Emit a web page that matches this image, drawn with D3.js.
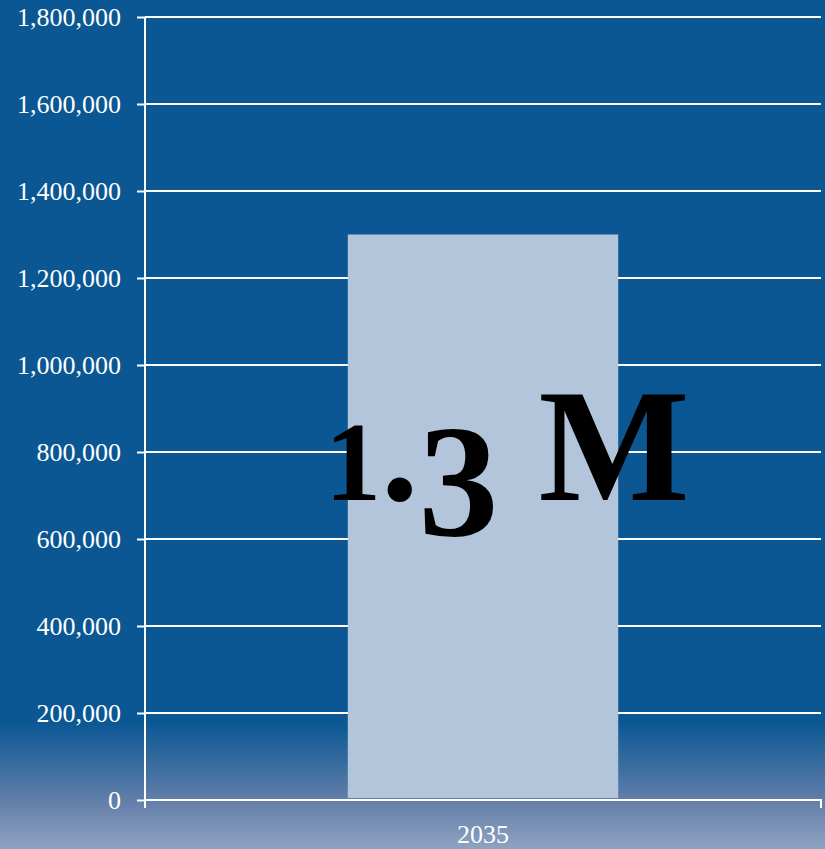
<!DOCTYPE html>
<html><head><meta charset="utf-8">
<script src="https://cdn.jsdelivr.net/npm/d3@7"></script>
<style>html,body{margin:0;padding:0;background:#0a5794;}svg{display:block;}
.serif{font-family:"Liberation Serif","Times New Roman",Times,serif;}</style>
</head><body>
<script>
const categories = ["2035"];
const values = [1300000];
const yTicks = [0,200000,400000,600000,800000,1000000,1200000,1400000,1600000,1800000];
const annotation = {big:"1", dot:".", three:"3", unit:" M"};

(function(){
const W = 825, H = 849;
const svg = d3.select("body").append("svg").attr("width", W).attr("height", H);
const defs = svg.append("defs");
const g = defs.append("linearGradient").attr("id","bg").attr("x1",0).attr("x2",0).attr("y1",0).attr("y2",1);
g.append("stop").attr("offset","0%").attr("stop-color","#0a5794");
g.append("stop").attr("offset","85%").attr("stop-color","#0a5794");
g.append("stop").attr("offset","94.5%").attr("stop-color","#647fa9");
g.append("stop").attr("offset","100%").attr("stop-color","#8ea3c1");
svg.append("rect").attr("width",W).attr("height",H).attr("fill","url(#bg)");

const pLeft = 145, pRight = 821, pTop = 17, pBottom = 800;
const y = d3.scaleLinear().domain([0,1800000]).range([pBottom, pTop]);
const x = d3.scaleBand().domain(categories).range([pLeft, pRight]).paddingInner(0.6).paddingOuter(0.3);

svg.append("g").selectAll("line").data(yTicks.filter(d=>d>0)).join("line")
  .attr("x1", pLeft).attr("x2", pRight).attr("y1", d=>y(d)).attr("y2", d=>y(d))
  .attr("stroke","#fff").attr("stroke-width",2);

svg.append("g").selectAll("rect").data(values).join("rect")
  .attr("x",(d,i)=>x(categories[i])).attr("width",x.bandwidth())
  .attr("y",d=>y(d)).attr("height",d=>pBottom-2-y(d)).attr("fill","#b3c5db");

const ya = svg.append("g").attr("transform",`translate(${pLeft},0)`)
  .call(d3.axisLeft(y).tickValues(yTicks).tickSize(8).tickPadding(16).tickFormat(d3.format(",")));
ya.attr("font-family",null).attr("font-size",null);
ya.select(".domain").attr("stroke","#fff").attr("stroke-width",2).attr("d",`M0,${pTop}V${pBottom+8}`);
ya.selectAll(".tick line").attr("stroke","#fff").attr("stroke-width",2);
ya.selectAll(".tick text").attr("fill","#fff").attr("class","serif").style("font-size","26px");

const xa = svg.append("g").attr("transform",`translate(0,${pBottom})`)
  .call(d3.axisBottom(x).tickSize(0).tickPadding(25));
xa.attr("font-family",null).attr("font-size",null);
xa.select(".domain").attr("stroke","#fff").attr("stroke-width",2).attr("d",`M${pLeft},0H${pRight}V8`);
xa.selectAll(".tick text").attr("fill","#fff").attr("class","serif").style("font-size","26px");

const t = svg.append("text").attr("class","serif").attr("x",325).attr("y",500)
  .style("font-weight","bold").attr("fill","#000");
t.append("tspan").style("font-size","112px").text(annotation.big);
t.append("tspan").style("font-size","150px").text(annotation.dot);
t.append("tspan").style("font-size","160px").attr("dy",35).text(annotation.three);
t.append("tspan").style("font-size","160px").attr("dy",-35).text(annotation.unit);
})();
</script>
</body></html>
